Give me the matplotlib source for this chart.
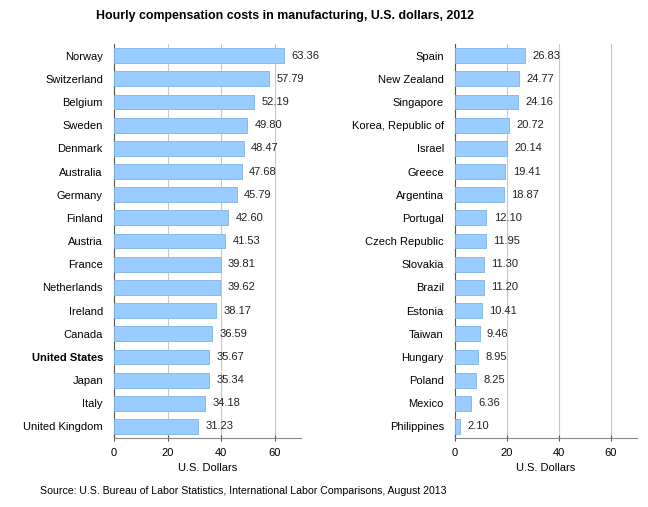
import matplotlib.pyplot as plt

# datos de costos de compensacion por hora, 2012
left_countries = ["Norway", "Switzerland", "Belgium", "Sweden", "Denmark", "Australia",
                  "Germany", "Finland", "Austria", "France", "Netherlands", "Ireland",
                  "Canada", "United States", "Japan", "Italy", "United Kingdom"]
left_values = [63.36, 57.79, 52.19, 49.80, 48.47, 47.68, 45.79, 42.60, 41.53, 39.81,
               39.62, 38.17, 36.59, 35.67, 35.34, 34.18, 31.23]

right_countries = ["Spain", "New Zealand", "Singapore", "Korea, Republic of", "Israel",
                   "Greece", "Argentina", "Portugal", "Czech Republic", "Slovakia",
                   "Brazil", "Estonia", "Taiwan", "Hungary", "Poland", "Mexico",
                   "Philippines"]
right_values = [26.83, 24.77, 24.16, 20.72, 20.14, 19.41, 18.87, 12.10, 11.95, 11.30,
                11.20, 10.41, 9.46, 8.95, 8.25, 6.36, 2.10]

xticks = [0, 20, 40, 60]

plt.rcParams["font.family"] = ["Liberation Sans", "DejaVu Sans"]
fig = plt.figure(figsize=(6.48, 5.07), dpi=100)
fs = 8

def panel(rect, names, vals):
    ax = fig.add_axes(rect)
    pos = list(range(len(names)))
    ax.barh(pos, vals, height=0.64, color="#99ccff", edgecolor="#7fb2e6", linewidth=0.6, zorder=3)
    for p, v in zip(pos, vals):
        ax.text(v + 2.8, p, f"{v:.2f}", va="center", ha="left", fontsize=fs, color="#222222", zorder=4)
    ax.set_yticks(pos)
    ax.set_yticklabels(names, fontsize=fs)
    ax.set_ylim(len(names) - 0.5, -0.5)
    ax.set_xlim(0, 70)
    ax.set_xticks(xticks)
    ax.set_xticklabels([str(t) for t in xticks], fontsize=fs)
    ax.grid(axis="x", color="#c8c8c8", linewidth=0.8, zorder=0)
    ax.tick_params(axis="y", length=0, pad=8)
    ax.tick_params(axis="x", length=4, color="#555555", direction="inout", pad=5)
    for s in ["top", "right"]:
        ax.spines[s].set_visible(False)
    ax.spines["left"].set_color("#555555")
    ax.spines["bottom"].set_color("#888888")
    ax.set_xlabel("U.S. Dollars", fontsize=fs, labelpad=4)
    return ax

ax1 = panel([0.176, 0.136, 0.289, 0.777], left_countries, left_values)
ax2 = panel([0.702, 0.136, 0.281, 0.777], right_countries, right_values)

# resaltar Estados Unidos
for lbl in ax1.get_yticklabels():
    if lbl.get_text() == "United States":
        lbl.set_fontweight("bold")

fig.text(0.148, 0.968, "Hourly compensation costs in manufacturing, U.S. dollars, 2012",
         fontsize=8.9, fontweight="bold", va="center", ha="left")
fig.text(0.062, 0.031, "Source: U.S. Bureau of Labor Statistics, International Labor Comparisons, August 2013",
         fontsize=7.6, va="center", ha="left")

plt.savefig("out.png", dpi=100)
